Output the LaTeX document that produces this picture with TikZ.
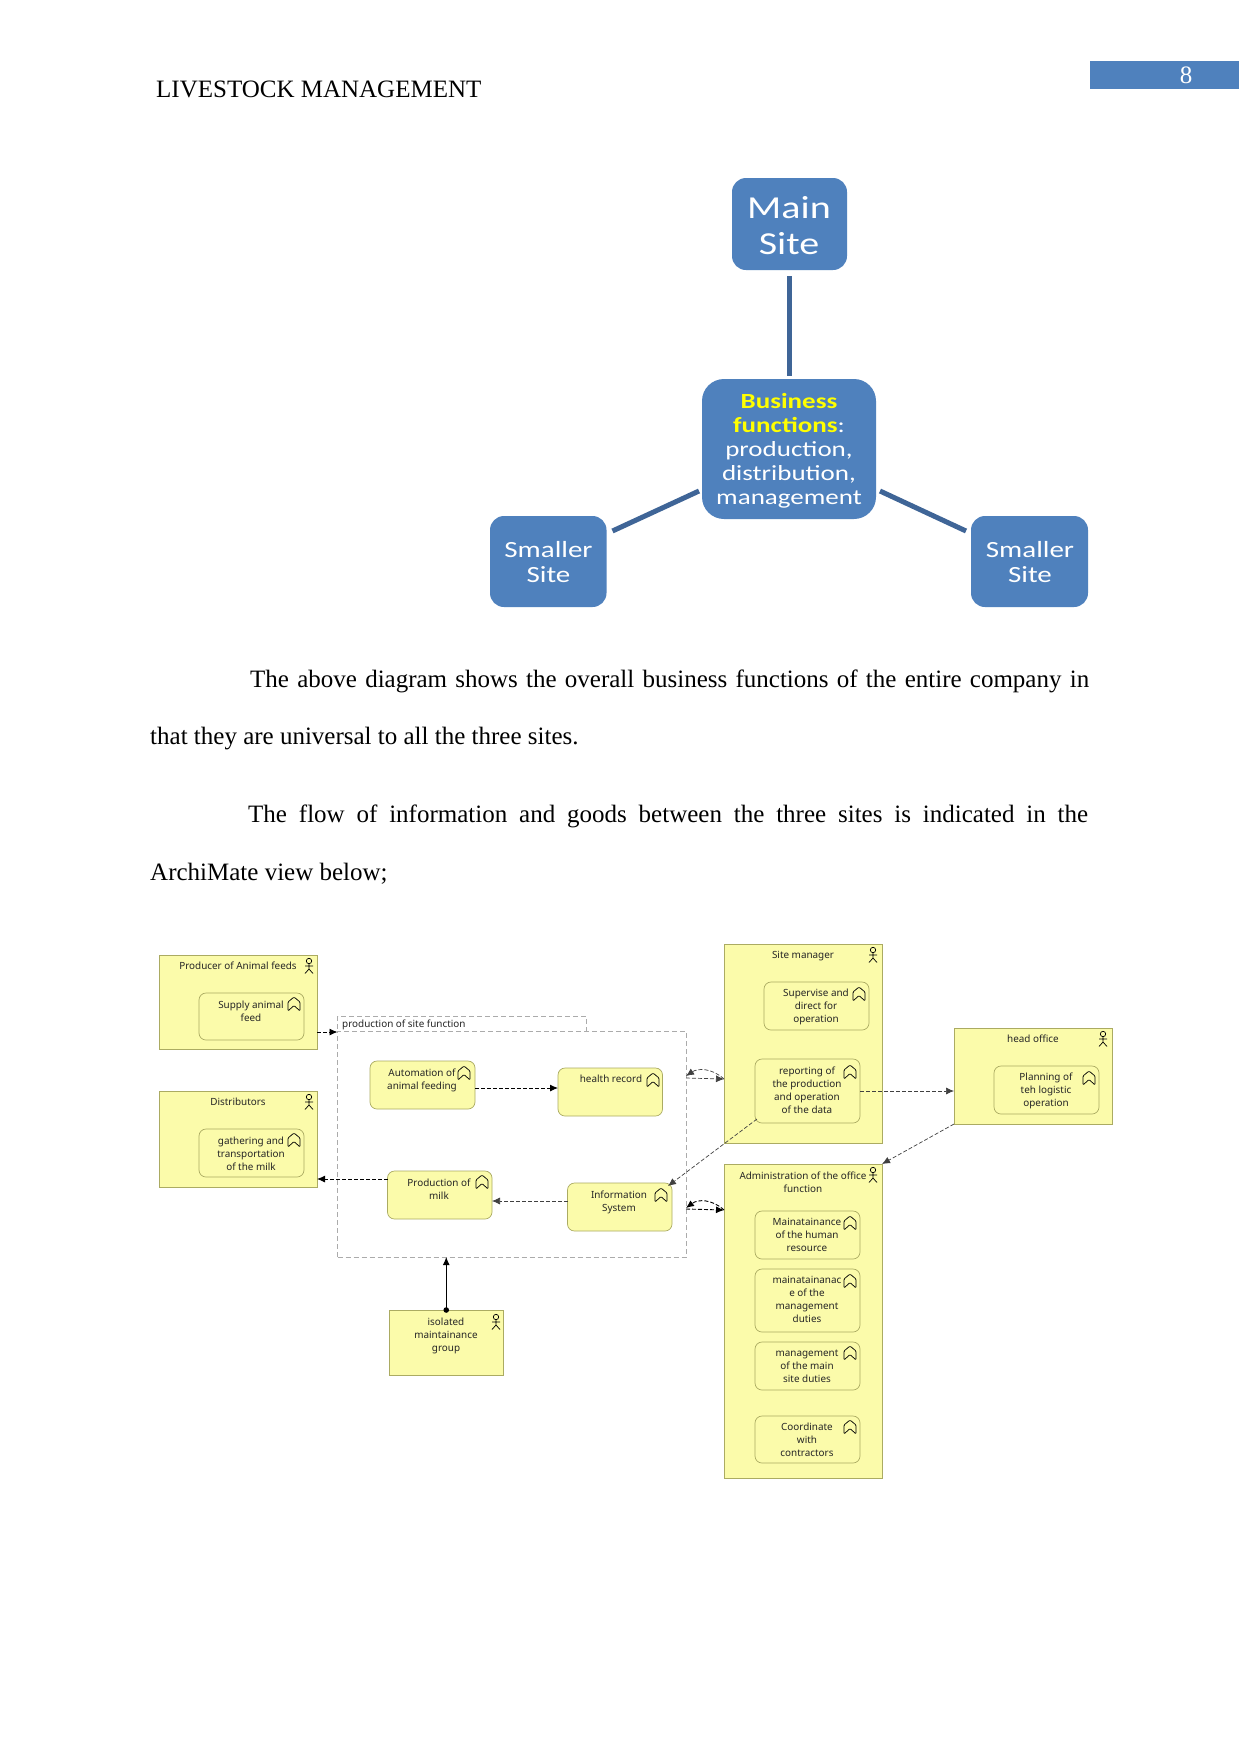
\documentclass[tikz,border=0pt]{standalone}
\usepackage{fontspec}
\setmainfont{Liberation Serif}
\newfontfamily\archifont{Noto Sans}
\newfontfamily\calfont[FakeStretch=1.25]{Carlito}
\usetikzlibrary{arrows.meta,calc}
\definecolor{sitefill}{HTML}{4F81BD}
\definecolor{siteline}{HTML}{3F6597}
\definecolor{sitegold}{HTML}{FFFF00}
\definecolor{archifill}{HTML}{FBFBAA}
\definecolor{archiline}{HTML}{ABAB62}
\definecolor{groupline}{HTML}{ABABAB}
\tikzset{
  boxbase/.style={inner sep=0pt,outer sep=0pt},
  sitebox/.style={boxbase,fill=sitefill,rounded corners=14pt},
  sitecentre/.style={boxbase,fill=sitefill,rounded corners=22pt},
  sitelink/.style={draw=siteline,line width=5pt},
  sitetxt/.style={text=white,align=center,inner sep=0pt,execute at begin node={\lineskiplimit=-100pt}},
  actorbox/.style={boxbase,draw=archiline,fill=archifill,line width=0.8pt},
  funcbox/.style={boxbase,draw=archiline,fill=archifill,line width=0.7pt,rounded corners=7pt},
  groupbox/.style={boxbase,draw=groupline,dash pattern=on 5pt off 3pt,line width=0.8pt},
  lbl/.style={font=\archifont\fontsize{9.9}{13}\selectfont,align=center,inner sep=0pt,text=black!85,yshift=-1.3pt},
  flow/.style={dash pattern=on 4pt off 2pt,line width=0.9pt,-{Latex[length=8pt,width=7pt]}},
  flowthin/.style={flow,line width=0.7pt,black!75},
  bodytxt/.style={font=\fontsize{25}{30}\selectfont,anchor=base west,inner sep=0pt},
  actoricon/.pic={\draw[line width=0.7pt] (0,-5) circle (2.7)
      (0,-2.3) -- (0,3) (-4,0) -- (4,0) (-4,7.5) -- (0,3) -- (4,7.5);},
  funcicon/.pic={\draw[line width=0.7pt,line join=round,rounded corners=1pt] (-6,7) -- (-6,-2) -- (0,-7) -- (6,-2) -- (6,7) -- (0,1.5) -- cycle;}
}
\newcommand{\boxnode}[6]{\node[#1,minimum width={(#5-#3)*1pt},minimum height={(#6-#4)*1pt}] (#2) at ({(#3+#5)/2},{(#4+#6)/2}) {};}
\newcommand{\st}{\strut}
\begin{document}
\begin{tikzpicture}[x=1pt,y=-1pt]
\useasboundingbox (0,0) rectangle (1241,1754);
\fill[white] (0,0) rectangle (1241,1754);
% page head
\boxnode{boxbase,fill=sitefill}{pagebar}{1090}{61}{1239}{89}
\node[text=white,font=\fontsize{25}{30}\selectfont,inner sep=0pt] (pagenum) at (1186,75) {8};
\node[bodytxt] (head) at (156,97) {LIVESTOCK MANAGEMENT};
% site diagram
\boxnode{sitebox}{main}{732}{178}{847}{270}
\boxnode{sitecentre}{centre}{702}{379}{876}{519}
\boxnode{sitebox}{left}{490}{516}{606.5}{607}
\boxnode{sitebox}{right}{971}{516}{1088}{607}
\node[sitetxt,font=\calfont\fontsize{32}{36}\selectfont] (mainT) at (789,229) {\st Main\\\st Site};
\node[sitetxt,font=\calfont\fontsize{23.2}{25.7}\selectfont] (leftT) at (548.5,565) {\st Smaller\\\st Site};
\node[sitetxt,font=\calfont\fontsize{23.2}{25.7}\selectfont] (rightT) at (1030,565) {\st Smaller\\\st Site};
\node[sitetxt,font=\calfont\fontsize{21.6}{24}\selectfont] (centreT) at (789,452)
  {\st\textcolor{sitegold}{\textbf{Business}}\\\st\textcolor{sitegold}{\textbf{functions}}:\\\st production,\\\st distribution,\\\st management};
\draw[sitelink] (main.south |- 0,276) -- (main.south |- 0,376);
\draw[sitelink] (left.east |- 0,531) ++(6,0) -- ($(centre.west |- 0,491)+(-3,0)$);
\draw[sitelink] ($(centre.east |- 0,491)+(4,0)$) -- ($(right.west |- 0,531)+(-5,0)$);
% body text
\node[bodytxt] (b1) at (250,687) {\makebox[839pt][s]{The above diagram shows the overall business functions of the entire company in}};
\node[bodytxt] (b2) at (150,744) {that they are universal to all the three sites.};
\node[bodytxt] (b3) at (248,822) {\makebox[840pt][s]{The flow of information and goods between the three sites is indicated in the}};
\node[bodytxt] (b4) at (150,880) {ArchiMate view below;};
% group
\boxnode{groupbox}{grouptab}{337.5}{1016}{586}{1031}
\boxnode{groupbox,fill=white}{group}{337.5}{1031}{686}{1257}
\node[lbl,anchor=west] (groupT) at (342,1024) {production of site function};
% actor boxes
\boxnode{actorbox}{producer}{159}{955}{317}{1049}
\boxnode{actorbox}{distrib}{159}{1091}{317}{1187}
\boxnode{actorbox}{isolated}{389}{1310}{503.5}{1375}
\boxnode{actorbox}{sitemgr}{724}{944}{882}{1143}
\boxnode{actorbox}{headoff}{954}{1028}{1112}{1124}
\boxnode{actorbox}{admin}{724}{1164}{882}{1478}
% functions
\boxnode{funcbox}{supply}{199}{993}{304}{1040}
\boxnode{funcbox}{gather}{199}{1129}{304}{1177}
\boxnode{funcbox}{auto}{370}{1061}{475}{1109}
\boxnode{funcbox}{health}{558}{1068}{662.5}{1116}
\boxnode{funcbox}{prod}{387.5}{1171}{492}{1219}
\boxnode{funcbox}{info}{567.5}{1183}{672}{1231}
\boxnode{funcbox}{supervise}{764}{982}{869}{1030}
\boxnode{funcbox}{report}{755}{1059}{860}{1123}
\boxnode{funcbox}{planning}{994}{1066}{1099}{1114}
\boxnode{funcbox}{humanres}{755}{1211}{860}{1259}
\boxnode{funcbox}{duties}{755}{1269}{860}{1332}
\boxnode{funcbox}{mainsite}{755}{1342}{860}{1390}
\boxnode{funcbox}{contract}{755}{1416}{860}{1463}
% labels
\node[lbl] (producerT) at (238,966) {\st Producer of Animal feeds};
\node[lbl] (distribT) at (238,1102) {\st Distributors};
\node[lbl] (isolatedT) at (446,1335) {\st isolated\\\st maintainance\\\st group};
\node[lbl] (sitemgrT) at (803,955) {\st Site manager};
\node[lbl] (headoffT) at (1033,1039) {\st head office};
\node[lbl] (adminT) at (803,1182) {\st Administration of the office\\\st function};
\node[lbl] (supplyT) at (251,1011) {\st Supply animal\\\st feed};
\node[lbl] (gatherT) at (251,1154) {\st gathering and\\\st transportation\\\st of the milk};
\node[lbl] (autoT) at (422,1079) {\st Automation of\\\st animal feeding};
\node[lbl] (healthT) at (611,1079) {\st health record};
\node[lbl] (prodT) at (439,1189) {\st Production of\\\st milk};
\node[lbl] (infoT) at (619,1201) {\st Information\\\st System};
\node[lbl] (superviseT) at (816,1006) {\st Supervise and\\\st direct for\\\st operation};
\node[lbl] (reportT) at (807,1090) {\st reporting of\\\st the production\\\st and operation\\\st of the data};
\node[lbl] (planningT) at (1046,1090) {\st Planning of\\\st teh logistic\\\st operation};
\node[lbl] (humanresT) at (807,1235) {\st Mainatainance\\\st of the human\\\st resource};
\node[lbl] (dutiesT) at (807,1299) {\st mainatainanac\\\st e of the\\\st management\\\st duties};
\node[lbl] (mainsiteT) at (807,1366) {\st management\\\st of the main\\\st site duties};
\node[lbl] (contractT) at (807,1440) {\st Coordinate\\\st with\\\st contractors};
% icons
\foreach \px/\py in {309/966,309/1102,496/1322,873/955,1103/1039,873/1175}
  \pic at (\px,\py) {actoricon};
\foreach \px/\py in {294/1004,294/1140,464/1073,653/1080,482/1182,661/1195,859/994,850/1072,1089/1078,850/1223,850/1281,850/1353,850/1427}
  \pic at (\px,\py) {funcicon};
% connectors
\draw[flow] (producer.east |- 0,1032) -- (group.west |- 0,1032);
\draw[flow] (auto.east |- 0,1088) -- (health.west |- 0,1088);
\draw[flow] (prod.west |- 0,1179) -- (distrib.east |- 0,1179);
\draw[flowthin] (info.west |- 0,1201) -- (prod.east |- 0,1201);
\draw[line width=1pt,-{Latex[length=8pt,width=7pt]}] (isolated.north) -- (isolated.north |- group.south);
\fill (isolated.north) circle (2.8);
\draw[flowthin] (group.east |- 0,1078) -- (sitemgr.west |- 0,1079);
\draw[flowthin] (sitemgr.west |- 0,1079) .. controls ($(sitemgr.west |- 0,1068)+(-12,0)$) and ($(group.east |- 0,1068)+(12,0)$) .. (group.east |- 0,1076);
\draw[flow] (group.east |- 0,1209) -- (admin.west |- 0,1210);
\draw[flow] (admin.west |- 0,1210) .. controls ($(admin.west |- 0,1199)+(-12,0)$) and ($(group.east |- 0,1199)+(12,0)$) .. (group.east |- 0,1208);
\draw[flowthin] (report.south west) ++(2,-4) -- ($(info.north east)+(-4,3)$);
\draw[flowthin] (report.east |- 0,1091) -- (headoff.west |- 0,1091);
\draw[flowthin] (headoff.south west) -- (admin.north east);
\end{tikzpicture}
\end{document}
